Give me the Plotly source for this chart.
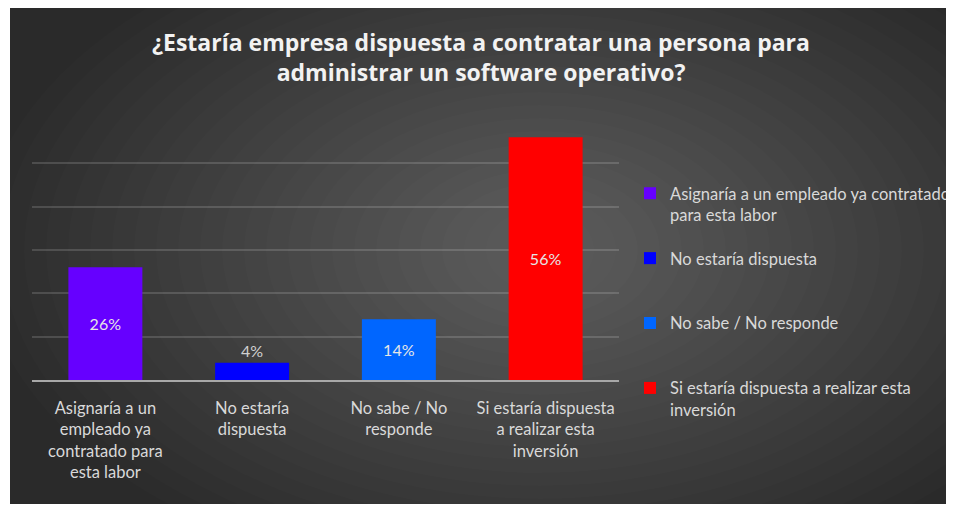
import plotly.graph_objects as go

categories = [
    "Asignaría a un<br>empleado ya<br>contratado para<br>esta labor",
    "No estaría<br>dispuesta",
    "No sabe / No<br>responde",
    "Si estaría dispuesta<br>a realizar esta<br>inversión",
]
legend_names = [
    "Asignaría a un empleado ya contratado<br>para esta labor",
    "No estaría dispuesta<br> ",
    "No sabe / No responde<br> ",
    "Si estaría dispuesta a realizar esta<br>inversión",
]
values = [26, 4, 14, 56]
labels = ["26%", "4%", "14%", "56%"]
colors = ["#6600ff", "#0000ff", "#0066ff", "#ff0000"]
text_positions = ["inside", "outside", "inside", "inside"]

# page offset (browser body margin)
OFF = 8
W, H = 954 - OFF, 508 - OFF
# plot area in page pixels
PL, PR, PT, PB = 32, 619, 120, 380
L, T = PL - OFF, PT - OFF
R, B = W - (PR - OFF), H - (PB - OFF)
pw, ph = W - L - R, H - T - B

def px_x(px):
    return (px - OFF - L) / pw

def px_y(py):
    return (PB - py) / ph

fig = go.Figure()
for cat, name, v, lab, col, tp in zip(categories, legend_names, values, labels, colors, text_positions):
    fig.add_trace(go.Bar(
        x=[cat], y=[v], name=name, marker=dict(color=col, line=dict(width=0)),
        text=[lab], textposition=tp, insidetextanchor="middle",
        textfont=dict(family="Lato", size=16, color="#e6e6e6"),
        outsidetextfont=dict(family="Lato", size=16, color="#d0d0d0"),
        cliponaxis=False, legendgroup=name,
    ))

shapes = [dict(type="rect", xref="paper", yref="paper",
               x0=px_x(10), x1=px_x(946), y0=px_y(504), y1=px_y(7),
               fillcolor="#2a2a2a", line=dict(width=0), layer="below")]
# radial-ish glow
cx, cy = 540, 250
N = 24
for i in range(N):
    rx = 560 - i * 22
    ry = 340 - i * 13
    shapes.append(dict(type="circle", xref="paper", yref="paper",
                       x0=px_x(cx - rx), x1=px_x(cx + rx),
                       y0=px_y(cy + ry), y1=px_y(cy - ry),
                       fillcolor="rgba(255,255,255,0.0135)", line=dict(width=0), layer="below"))

fig.update_layout(
    width=W, height=H,
    margin=dict(l=L, r=R, t=T, b=B, pad=0, autoexpand=False),
    paper_bgcolor="white",
    plot_bgcolor="rgba(0,0,0,0)",
    barmode="overlay",
    bargap=0.496,
    shapes=shapes,
    title=dict(
        text="¿Estaría empresa dispuesta a contratar una persona para<br>administrar un software operativo?",
        x=0.5, xanchor="center", y=1 - (51 - OFF) / H, yanchor="middle",
        xref="container", yref="container",
        font=dict(family="Open Sans", size=23, color="#f2f2f2", weight="bold"),
    ),
    xaxis=dict(
        showgrid=False, showline=True, linecolor="#a8a8a8", linewidth=2,
        ticks="outside", ticklen=12, tickcolor="rgba(0,0,0,0)",
        tickfont=dict(family="Lato", size=16.5, color="#d9d9d9"),
        fixedrange=True,
    ),
    yaxis=dict(
        range=[0, 60], dtick=10, showticklabels=False, showgrid=True,
        gridcolor="rgba(255,255,255,0.15)", gridwidth=1.5, zeroline=False,
        fixedrange=True,
    ),
    showlegend=True,
    legend=dict(
        x=px_x(630), xanchor="left", y=px_y(176), yanchor="top",
        font=dict(family="Lato", size=16.5, color="#d9d9d9"),
        tracegroupgap=19, valign="top", itemwidth=30,
        bgcolor="rgba(0,0,0,0)",
    ),
)

fig.write_html("out.html")
